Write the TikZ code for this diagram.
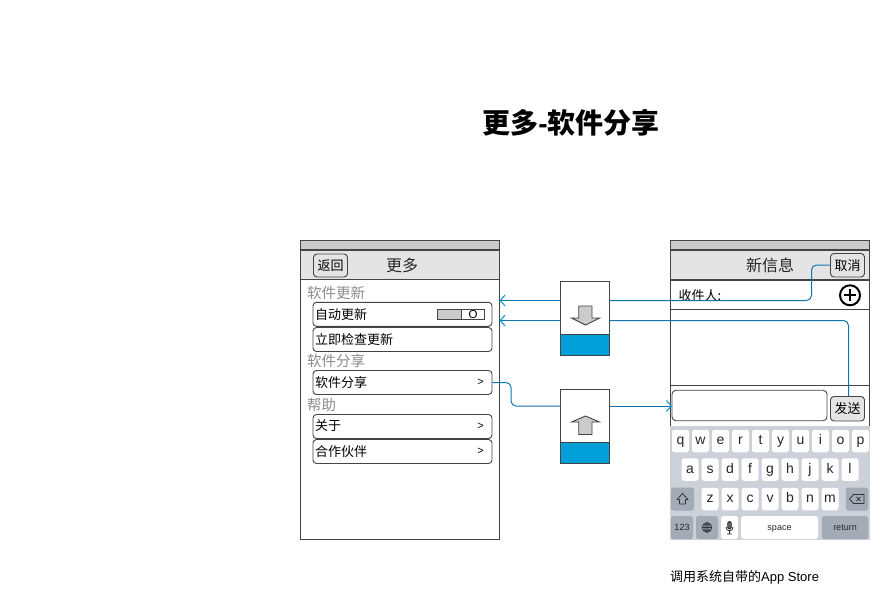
\documentclass[tikz,border=0pt]{standalone}
\usepackage{fontspec}
\setmainfont{Noto Sans CJK SC}
\newfontfamily\latinf{Liberation Sans}
\usetikzlibrary{arrows.meta}
\definecolor{ln}{HTML}{444444}
\definecolor{barg}{HTML}{CBCBCB}
\definecolor{navg}{HTML}{E4E4E4}
\definecolor{blu}{HTML}{009FDA}
\definecolor{wire}{HTML}{0F75B0}
\definecolor{kbbg}{HTML}{CCD0D8}
\definecolor{kbdk}{HTML}{A3ABB7}
\tikzset{
 x=1pt,y=-1pt,
 phone/.style={draw=ln,line width=1pt,fill=white,inner sep=0,minimum width=199pt,minimum height=299pt},
 rowb/.style={draw=ln,line width=.9pt,rounded corners=3.5pt,fill=white,inner sep=0,minimum width=179pt,minimum height=24pt},
 btn/.style={draw=ln,line width=.9pt,rounded corners=3.5pt,fill=navg,inner sep=0,font=\fontsize{13}{13}\selectfont},
 lbl/.style={anchor=west,inner sep=0,text=black,font=\fontsize{13}{13}\selectfont},
 sect/.style={anchor=west,inner sep=0,text=black!45,font=\fontsize{14.5}{14.5}\selectfont},
 ttl/.style={inner sep=0,text=black!85,font=\fontsize{16}{16}\selectfont},
 gt/.style={inner sep=0,font=\latinf\fontsize{11}{11}\selectfont},
 mid/.style={draw=ln,line width=1pt,fill=white,inner sep=0,minimum width=49pt,minimum height=74pt},
 kl/.style={inner sep=0,fill=white,rounded corners=2.5pt,text height=9.5pt,text depth=2pt,font=\latinf\fontsize{14}{14}\selectfont,text=black!85},
 ksm/.style={text height=6.5pt,text depth=0pt,font=\latinf\fontsize{9}{9}\selectfont},
 kd/.style={kl,fill=kbdk},
 conn/.style={draw=wire,line width=1pt,rounded corners=5pt},
 tip/.style={-{Straight Barb[length=5pt,width=11pt,color=blu!80!wire]}},
 bar/.style={fill=barg,draw=none},
 nav/.style={fill=navg,draw=none},
 sep/.style={draw=ln,line width=1pt},
 sept/.style={draw=ln,line width=1.6pt},
 fat/.style={draw=ln,line width=.9pt,fill=barg,line join=miter},
}
\newcommand{\keyrow}[4]{\foreach \c [count=\i from 0] in {#4} {\node[kl,minimum width=17pt,minimum height=22.5pt] (k\c) at ({#1+20*\i},#2) {\c};}}
\begin{document}
\begin{tikzpicture}
\useasboundingbox (0,0) rectangle (879,594);
\node[inner sep=0,font=\fontsize{28}{28}\selectfont\bfseries] (title) at (571,123) {更多{\latinf\bfseries -}软件分享};

% left phone
\node[phone] (lp) at (399.5,389.5) {};
\fill[bar] (301,241) rectangle (499,249);
\fill[nav] (301,251) rectangle (499,279);
\draw[sept] (300,250) -- (500,250);
\draw[sep] (300,279.5) -- (500,279.5);
\node[btn,minimum width=34pt,minimum height=23pt] (back) at (330.5,265.5) {返回};
\node[ttl] (lt) at (402,265) {更多};
\node[sect] (s1) at (307,293) {软件更新};
\node[rowb] (r1) at (402.5,314.3) {};
\node[rowb] (r2) at (402.5,339.5) {};
\node[sect] (s2) at (307,361) {软件分享};
\node[rowb] (r3) at (402.5,382.5) {};
\node[sect] (s3) at (307,405) {帮助};
\node[rowb] (r4) at (402.5,426.5) {};
\node[rowb] (r5) at (402.5,451.5) {};
\node[lbl] (t1) at (315,314.5) {自动更新};
\node[lbl] (t2) at (315,339.5) {立即检查更新};
\node[lbl] (t3) at (315,382.5) {软件分享};
\node[lbl] (t4) at (315,426) {关于};
\node[lbl] (t5) at (315,451.5) {合作伙伴};
\node[gt] (g3) at (480.5,382) {>};
\node[gt] (g4) at (480.5,426) {>};
\node[gt] (g5) at (480.5,451) {>};
\draw[draw=ln,line width=.9pt,fill=barg] (437.5,309) rectangle (461,319.5);
\draw[draw=ln,line width=.9pt,fill=white] (461,309) rectangle (484.5,319.5);
\node[inner sep=0,font=\latinf\fontsize{11.5}{11.5}\selectfont] (tog) at (473,314.3) {O};

% right phone
\node[phone] (rp) at (769.5,389.5) {};
\fill[bar] (671,241) rectangle (869,249);
\fill[nav] (671,251) rectangle (869,279);
\draw[sept] (670,250) -- (870,250);
\draw[sept] (670,280) -- (870,280);
\draw[sep] (670,309.5) -- (870,309.5);
\draw[sep] (670,385.5) -- (870,385.5);
\node[ttl] (rt) at (770,265) {新信息};
\node[btn,minimum width=34pt,minimum height=23.5pt] (cancel) at (847.5,265.2) {取消};
\node[lbl] (to) at (678.5,295.5) {收件人:};
\node[draw=black,line width=2pt,circle,minimum size=20pt,inner sep=0,fill=white] (plus) at (850,295.3) {};
\draw[black,line width=2pt] (844,295.3) -- (856,295.3) (850,289.3) -- (850,301.3);
\node[draw=ln,line width=.9pt,rounded corners=4pt,fill=white,inner sep=0,minimum width=155pt,minimum height=30.5pt] (msg) at (749.5,405.5) {};
\node[btn,minimum width=34pt,minimum height=24.5pt] (send) at (847.5,408.7) {发送};

% keyboard
\fill[kbbg] (670,425.5) rectangle (870,539.5);
\keyrow{680.5}{441}{0}{q,w,e,r,t,y,u,i,o,p}
\keyrow{690}{469.5}{0}{a,s,d,f,g,h,j,k,l}
\keyrow{710}{499}{0}{z,x,c,v,b,n,m}
\node[kd,minimum width=23pt,minimum height=23pt] (shift) at (682.5,499) {};
\draw[black!80,line width=.8pt,line join=round] (682.5,493.5) -- (688,499.5) -- (685.5,499.5) -- (685.5,504) -- (679.5,504) -- (679.5,499.5) -- (677,499.5) -- cycle;
\node[kd,minimum width=22.5pt,minimum height=23pt] (del) at (857,499) {};
\draw[black!80,line width=.8pt,line join=round] (849.5,499) -- (853.5,494.5) -- (864,494.5) -- (864,503.5) -- (853.5,503.5) -- cycle;
\draw[black!80,line width=.8pt] (856.5,496.8) -- (860.5,501.2) (860.5,496.8) -- (856.5,501.2);
\node[kd,ksm,minimum width=22pt,minimum height=23pt] (k123) at (682,527.5) {123};
\node[kd,minimum width=22pt,minimum height=23pt] (globe) at (707,527.5) {};
\draw[black!80,line width=.7pt] (707,527.5) circle (4.8) (702.2,527.5) -- (711.8,527.5) (703,525) -- (711,525) (703,530) -- (711,530) (707,522.7) -- (707,532.3);
\draw[black!80,line width=.7pt] (707,527.5) ellipse (2.2 and 4.8);
\node[kl,minimum width=17pt,minimum height=23pt] (mic) at (729.5,527.5) {};
\draw[black!85,line width=.8pt,fill=black!60,rounded corners=1.5pt] (727.7,521.5) rectangle (731.3,529);
\draw[black!85,line width=.8pt] (726,527) .. controls (726,532) and (733,532) .. (733,527) (729.5,531) -- (729.5,534) (727,534) -- (732,534);
\node[kl,ksm,minimum width=77pt,minimum height=23pt] (space) at (779.5,527.5) {space};
\node[kd,ksm,minimum width=46.5pt,minimum height=23pt] (ret) at (845,527.5) {return};
\node[anchor=west,inner sep=0,font=\fontsize{13}{13}\selectfont] (cap) at (670,577.5) {调用系统自带的{\latinf App Store}};

% middle boxes
\node[mid] (m1) at (585,318.5) {};
\draw[draw=ln,line width=1pt,fill=blu] (560.5,334) rectangle (609.5,355.5);
\draw[fat] (578.7,306) -- (592,306) -- (592,318) -- (599.5,318) -- (585.5,325) -- (571.5,318) -- (578.7,318) -- cycle;
\node[mid] (m2) at (585,426.5) {};
\draw[draw=ln,line width=1pt,fill=blu] (560.5,442) rectangle (609.5,463.5);
\draw[fat] (578.7,434.5) -- (592,434.5) -- (592,422) -- (599.5,422) -- (585.5,416) -- (571.5,422) -- (578.7,422) -- cycle;

% connector bends and ports
\coordinate (a1) at (499.5,300.5);
\coordinate (a2) at (499.5,320.5);
\coordinate (m1l1) at (560.5,300.5);
\coordinate (m1l2) at (560.5,320.5);
\coordinate (m1r1) at (609.5,300.5);
\coordinate (m1r2) at (609.5,320.5);
\coordinate (m2l) at (560.5,406);
\coordinate (m2r) at (609.5,406);
\coordinate (msgin) at (672,406);
\coordinate (b1) at (811.5,300.5);
\coordinate (b2) at (811.5,265);
\coordinate (b3) at (848.5,320.5);
\coordinate (b4) at (511,382.5);
\coordinate (b5) at (511,406);

\draw[conn] (cancel.west) -- (b2) -- (b1) -- (m1r1);
\draw[conn] (send.north -| b3) -- (b3) -- (m1r2);
\draw[conn,tip] (m1l1) -- (a1);
\draw[conn,tip] (m1l2) -- (a2);
\draw[conn] (r3.east) -- (b4) -- (b5) -- (m2l);
\draw[conn,tip] (m2r) -- (msgin);
\end{tikzpicture}
\end{document}
